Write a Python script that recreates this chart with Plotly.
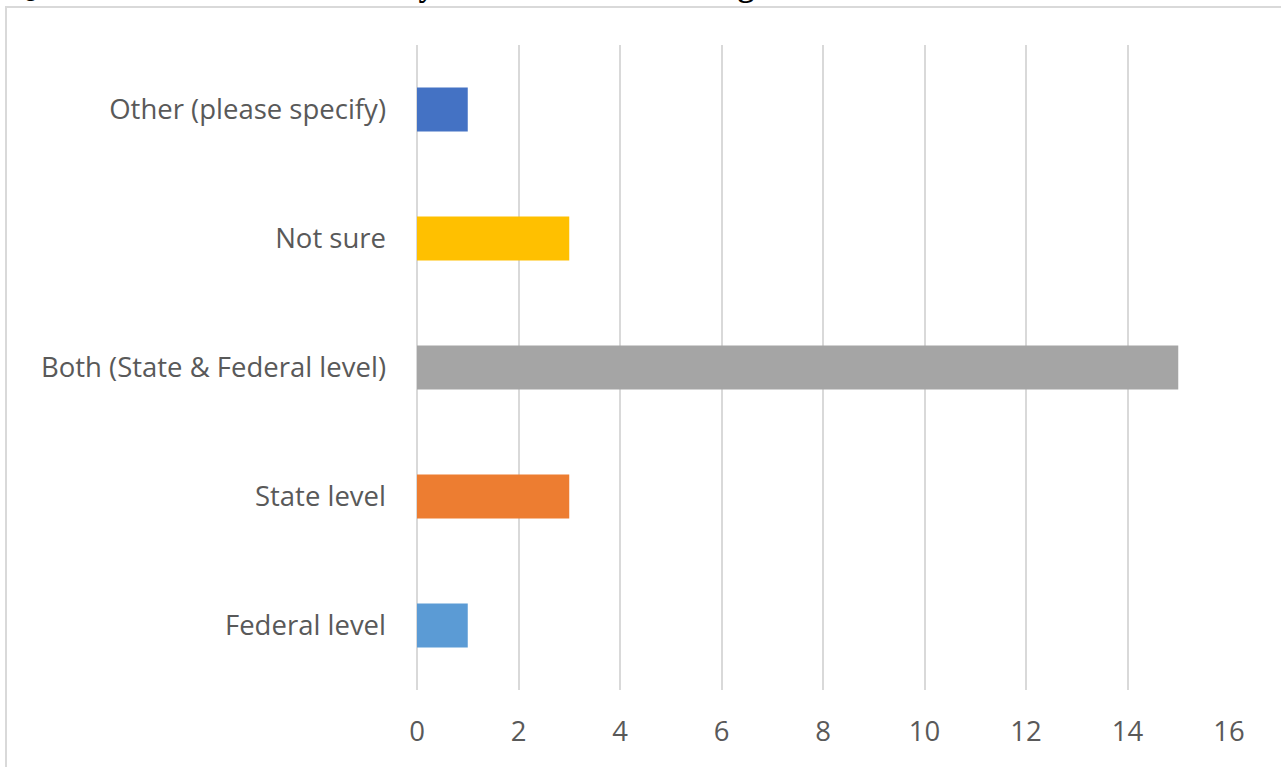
import plotly.graph_objects as go

# Survey responses: source of funding
categories = ["Federal level", "State level", "Both (State & Federal level)", "Not sure", "Other (please specify)"]
counts = [1, 3, 15, 3, 1]
bar_colors = ["#5B9BD5", "#ED7D31", "#A5A5A5", "#FFC000", "#4472C4"]
x_ticks = [0, 2, 4, 6, 8, 10, 12, 14, 16]

W, H = 1281, 767
L, R, T, B = 417, 52, 45, 77
pw, ph = W - L - R, H - T - B

def px_x(p):
    return (p - L) / pw

def px_y(p):
    return (H - B - p) / ph

label_font = dict(family="Open Sans, sans-serif", size=27.5, color="#595959")

fig = go.Figure(
    go.Bar(
        x=counts,
        y=categories,
        orientation="h",
        marker=dict(color=bar_colors, line=dict(width=0)),
        width=0.34,
    )
)

fig.update_layout(
    width=W,
    height=H,
    margin=dict(l=L, r=R, t=T, b=B, autoexpand=False),
    paper_bgcolor="white",
    plot_bgcolor="white",
    showlegend=False,
    xaxis=dict(
        range=[0, 16],
        tickvals=x_ticks,
        showgrid=True,
        gridcolor="#D9D9D9",
        gridwidth=1.5,
        zeroline=True,
        zerolinecolor="#D9D9D9",
        zerolinewidth=1.5,
        showline=False,
        ticks="",
        tickfont=label_font,
        ticklabelstandoff=22,
        fixedrange=True,
    ),
    yaxis=dict(
        categoryorder="array",
        categoryarray=categories,
        range=[-0.5, 4.5],
        showgrid=False,
        zeroline=False,
        showline=False,
        ticks="",
        tickfont=label_font,
        ticklabelstandoff=30,
        fixedrange=True,
    ),
    shapes=[
        dict(
            type="rect", xref="paper", yref="paper",
            x0=px_x(6), x1=px_x(1300), y0=px_y(7), y1=px_y(800),
            line=dict(color="#D9D9D9", width=2), fillcolor="rgba(0,0,0,0)", layer="below",
        )
    ],
    annotations=[
        dict(
            text="<b>Question 11: From where do you receive this funding?</b>",
            xref="paper", yref="paper",
            x=px_x(8), y=px_y(5),
            xanchor="left", yanchor="bottom",
            showarrow=False,
            font=dict(family="Liberation Serif, Times New Roman, serif", size=33, color="black"),
        )
    ],
)

fig.write_html("out.html")
